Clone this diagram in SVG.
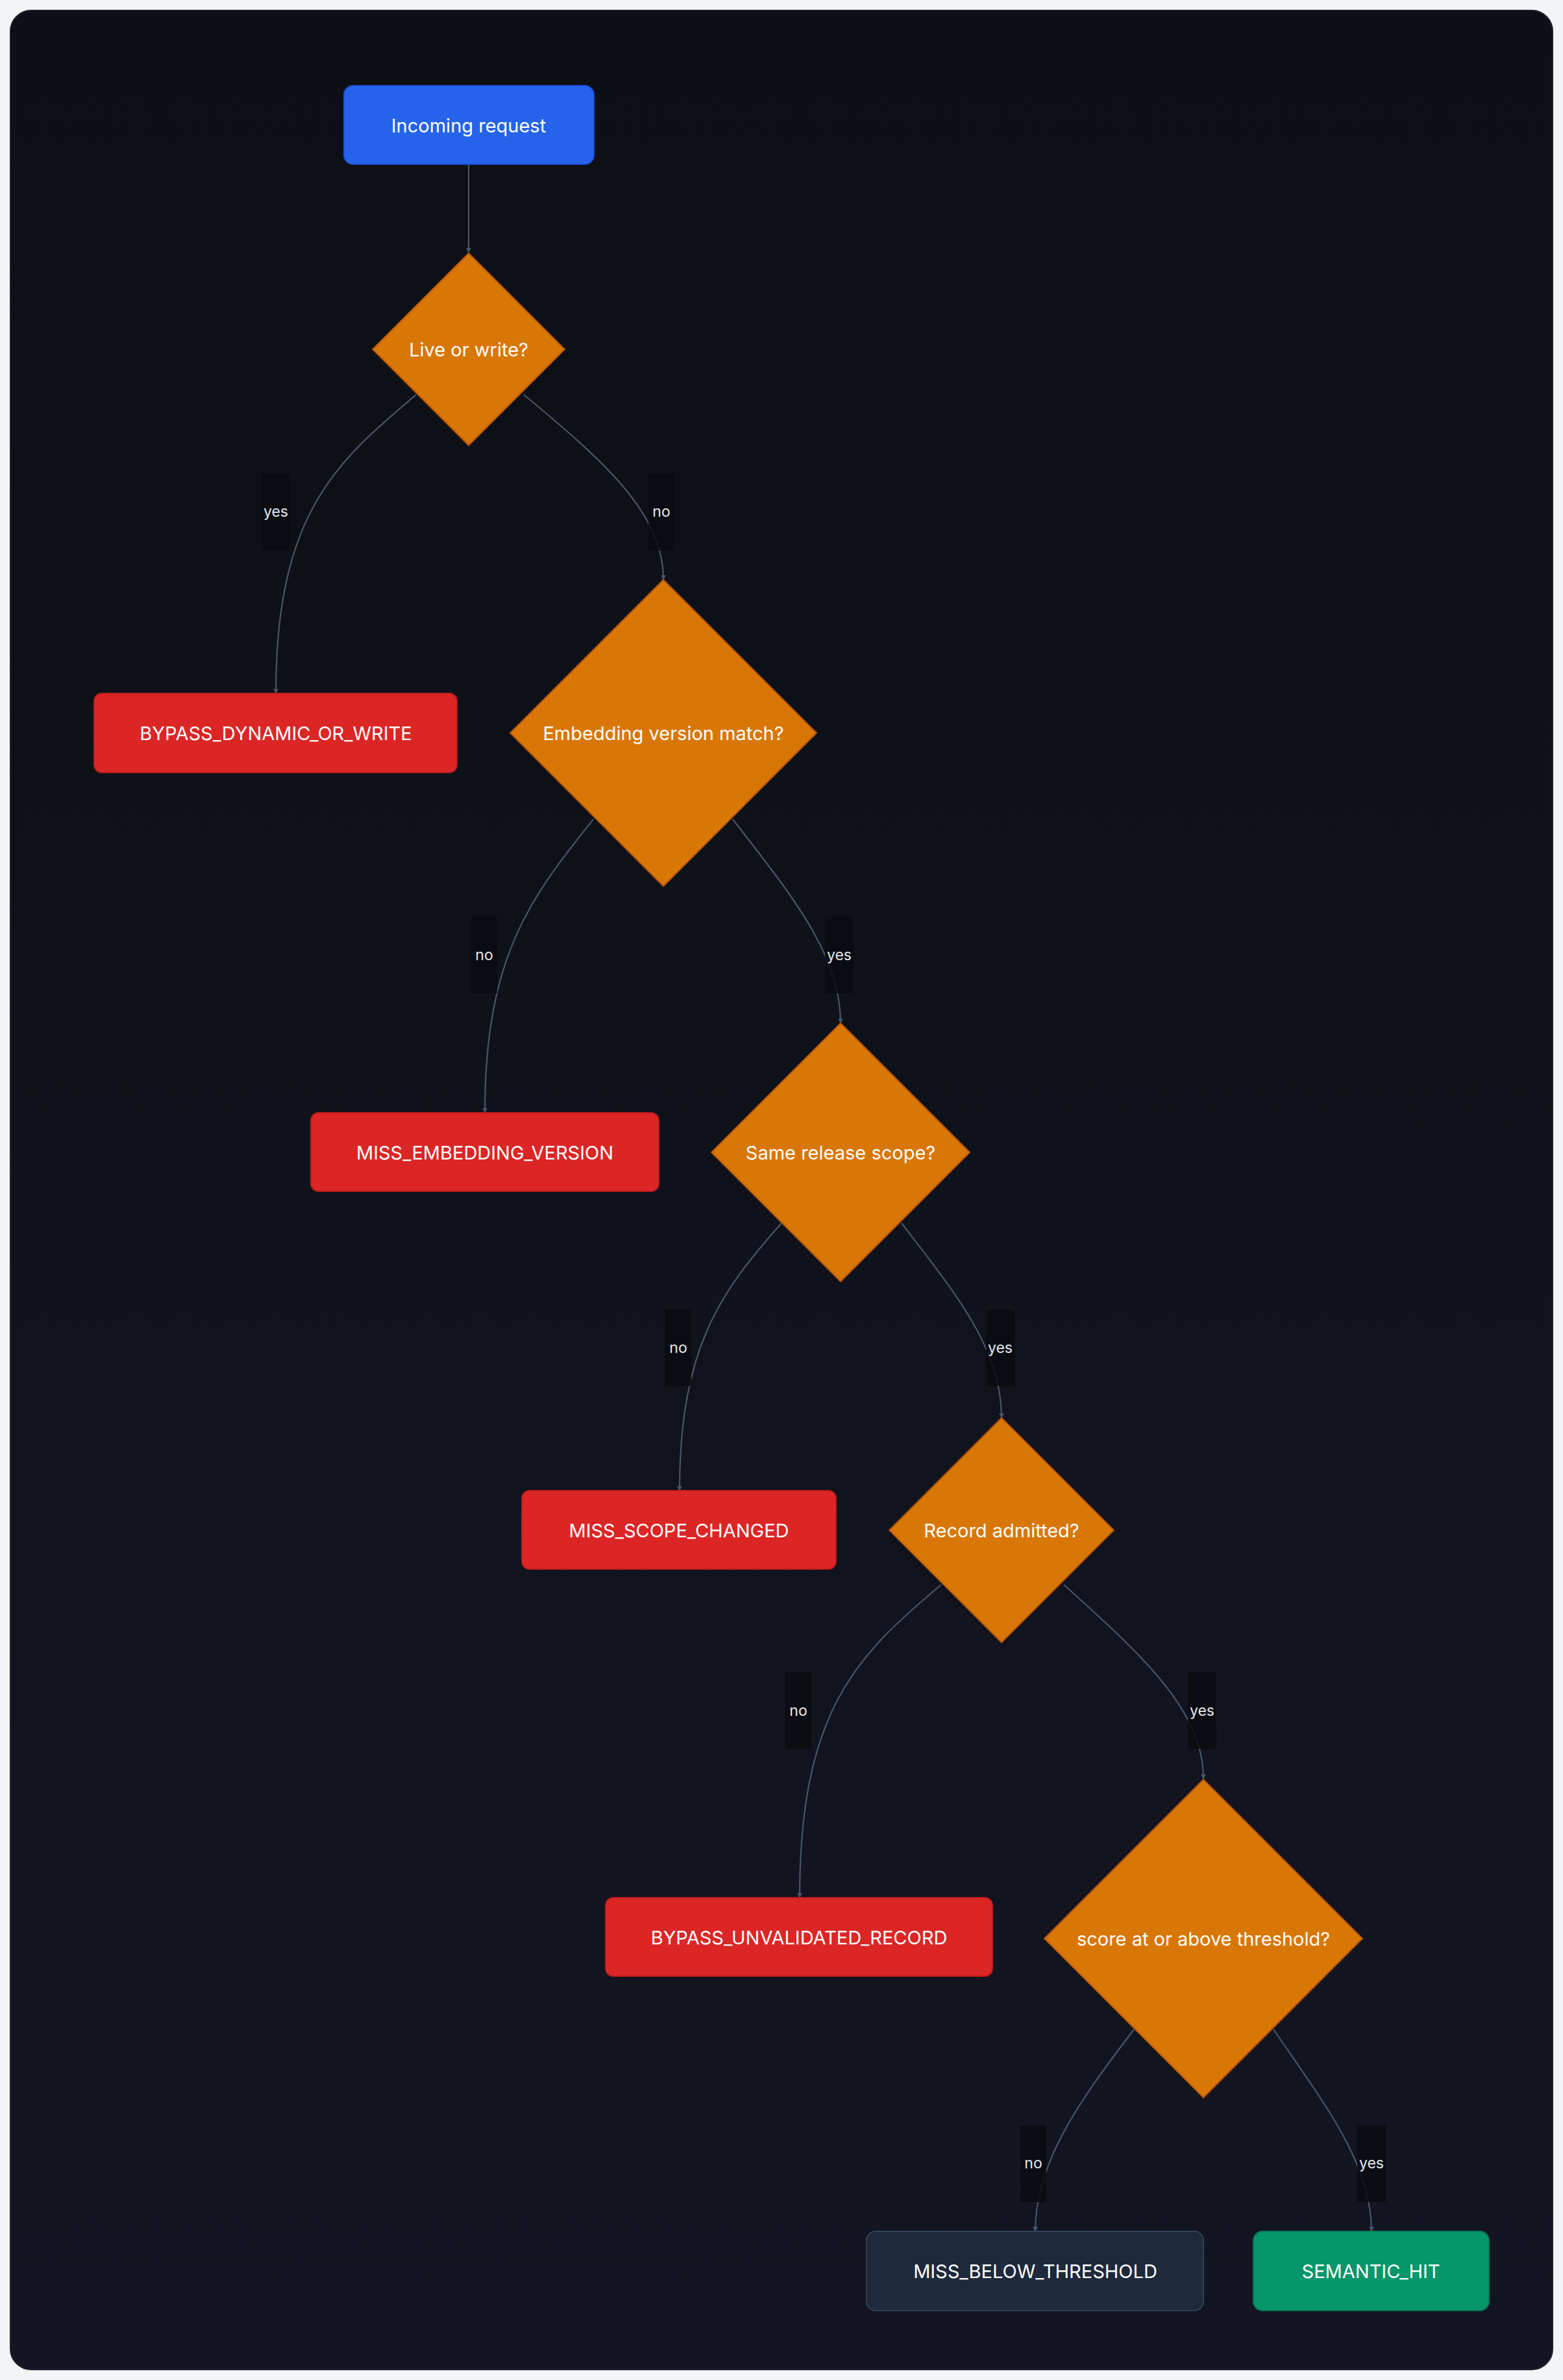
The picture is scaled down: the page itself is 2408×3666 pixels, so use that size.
<svg xmlns="http://www.w3.org/2000/svg" width="2408" height="3666" viewBox="0 0 2408 3666">
<defs>
<linearGradient id="bg" x1="0" y1="0" x2="0" y2="1"><stop offset="0" stop-color="#0d0f14"/><stop offset="1" stop-color="#131522"/></linearGradient>
<marker id="arr" viewBox="0 0 10 10" refX="9" refY="5" markerWidth="8" markerHeight="8" markerUnits="userSpaceOnUse" orient="auto"><path d="M0,0 L10,5 L0,10 z" fill="#475569"/></marker>
<style>
.t{font-family:Inter,"Noto Sans",sans-serif;font-size:29px;fill:#fff;text-anchor:middle;dominant-baseline:central}
.l{font-family:Inter,"Noto Sans",sans-serif;font-size:23px;fill:#e5e7eb;text-anchor:middle;dominant-baseline:central}
.e{fill:none;stroke:#475569;stroke-width:2.2;marker-end:url(#arr)}
.lb{fill:#0b0c10;opacity:0.85}
.dia{fill:#d97706;stroke:#b45309;stroke-width:2}
.red{fill:#dc2626;stroke:#b91c1c;stroke-width:2}
</style>
</defs>
<rect width="2408" height="3666" fill="#f3f4f6"/>
<rect x="16" y="16" width="2376" height="3634" rx="32" fill="url(#bg)" stroke="#1f2330" stroke-width="2"/>
<g id="connectors">
<path class="e" d="M722,254 L722,389"/>
<path class="e" d="M641,608 C520,710 425,790 425,1068"/>
<path class="e" d="M807,608 C930,710 1022,790 1022,893"/>
<path class="e" d="M914,1262 C820,1380 747,1470 747,1714"/>
<path class="e" d="M1129,1262 C1220,1380 1295,1470 1295,1576"/>
<path class="e" d="M1204,1884 C1110,1990 1047,2076 1047,2296"/>
<path class="e" d="M1389,1884 C1470,1990 1543,2076 1543,2184"/>
<path class="e" d="M1450,2441 C1320,2550 1232,2635 1232,2923"/>
<path class="e" d="M1639,2441 C1760,2550 1854,2635 1854,2740"/>
<path class="e" d="M1747,3126 C1660,3240 1595,3332 1595,3437"/>
<path class="e" d="M1962,3126 C2040,3240 2113,3332 2113,3437"/>
<rect class="lb" x="403" y="730" width="44" height="118"/><text class="l" x="425" y="788">yes</text>
<rect class="lb" x="999" y="730" width="40" height="118"/><text class="l" x="1019" y="788">no</text>
<rect class="lb" x="726" y="1412" width="40" height="118"/><text class="l" x="746" y="1471">no</text>
<rect class="lb" x="1271" y="1412" width="44" height="118"/><text class="l" x="1293" y="1471">yes</text>
<rect class="lb" x="1025" y="2017" width="40" height="118"/><text class="l" x="1045" y="2076">no</text>
<rect class="lb" x="1519" y="2017" width="44" height="118"/><text class="l" x="1541" y="2076">yes</text>
<rect class="lb" x="1210" y="2576" width="40" height="118"/><text class="l" x="1230" y="2635">no</text>
<rect class="lb" x="1830" y="2576" width="44" height="118"/><text class="l" x="1852" y="2635">yes</text>
<rect class="lb" x="1572" y="3274" width="40" height="118"/><text class="l" x="1592" y="3332">no</text>
<rect class="lb" x="2091" y="3274" width="44" height="118"/><text class="l" x="2113" y="3332">yes</text>
</g>
<g id="n_incoming"><rect x="530" y="132" width="385" height="121" rx="14" fill="#2563eb" stroke="#1d4ed8" stroke-width="2"/><text class="t" x="722" y="193">Incoming request</text></g>
<g id="d_live"><polygon class="dia" points="722,390 870,538 722,686 574,538"/><text class="t" x="722" y="538">Live or write?</text></g>
<g id="n_bypass_dyn"><rect class="red" x="145" y="1068" width="559" height="122" rx="12"/><text class="t" x="425" y="1129">BYPASS_DYNAMIC_OR_WRITE</text></g>
<g id="d_embed"><polygon class="dia" points="1022,893 1258,1129 1022,1365 786,1129"/><text class="t" x="1022" y="1129">Embedding version match?</text></g>
<g id="n_miss_emb"><rect class="red" x="479" y="1714" width="536" height="121" rx="12"/><text class="t" x="747" y="1775">MISS_EMBEDDING_VERSION</text></g>
<g id="d_scope"><polygon class="dia" points="1295,1576 1494,1775 1295,1974 1096,1775"/><text class="t" x="1295" y="1775">Same release scope?</text></g>
<g id="n_miss_scope"><rect class="red" x="804" y="2296" width="484" height="121" rx="12"/><text class="t" x="1046" y="2357">MISS_SCOPE_CHANGED</text></g>
<g id="d_record"><polygon class="dia" points="1543,2184 1716,2357 1543,2530 1370,2357"/><text class="t" x="1543" y="2357">Record admitted?</text></g>
<g id="n_bypass_rec"><rect class="red" x="933" y="2923" width="596" height="121" rx="12"/><text class="t" x="1231" y="2984">BYPASS_UNVALIDATED_RECORD</text></g>
<g id="d_score"><polygon class="dia" points="1854,2741 2099,2986 1854,3231 1609,2986"/><text class="t" x="1854" y="2986">score at or above threshold?</text></g>
<g id="n_miss_thr"><rect x="1335" y="3437" width="519" height="122" rx="14" fill="#1e293b" stroke="#334155" stroke-width="2"/><text class="t" x="1595" y="3498">MISS_BELOW_THRESHOLD</text></g>
<g id="n_hit"><rect x="1931" y="3437" width="363" height="122" rx="14" fill="#059669" stroke="#047857" stroke-width="2"/><text class="t" x="2112" y="3498">SEMANTIC_HIT</text></g>
</svg>
